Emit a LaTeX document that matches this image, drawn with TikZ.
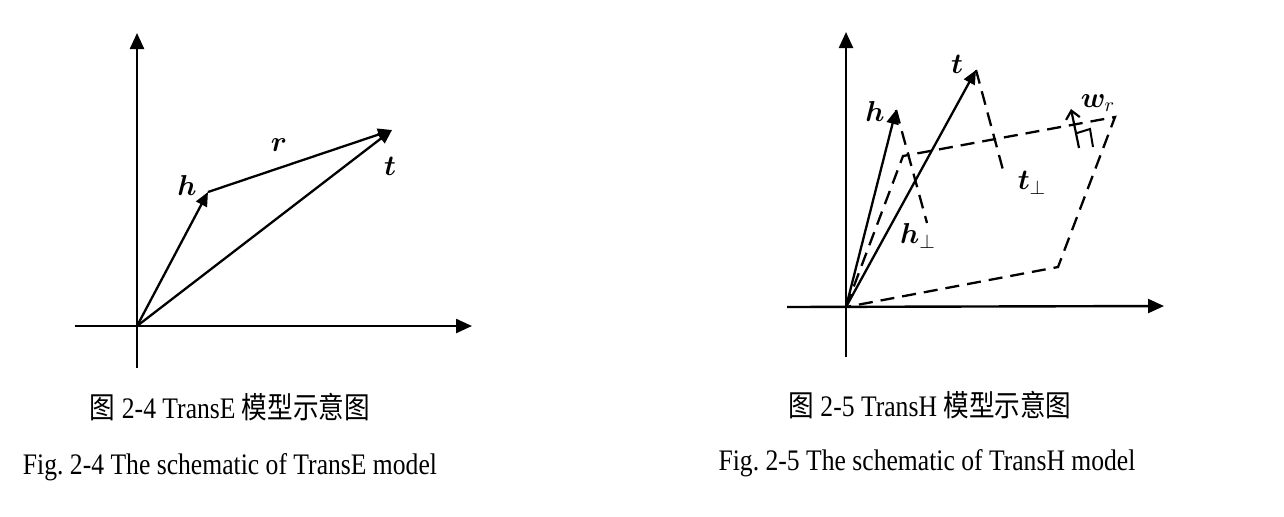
\documentclass[tikz,border=0pt]{standalone}
\usepackage{fontspec}
\usepackage{bm}
\setmainfont{Liberation Serif}
\newfontfamily\capfont[FakeStretch=0.86]{Liberation Serif}
\newfontfamily\cjk[FakeStretch=0.86]{Noto Sans CJK SC}
\usetikzlibrary{arrows.meta}
\frenchspacing
\tikzset{
  axis/.style={line width=1.2pt, -{Triangle[length=8pt,width=7pt]}},
  vec/.style={line width=1.15pt, -{Triangle[length=7pt,width=6pt]}},
  proj/.style={line width=1.15pt, dash pattern=on 7pt off 4pt},
  lab/.style={font=\fontsize{14}{16}\selectfont},
  captext/.style={font=\capfont\fontsize{14.9}{17}\selectfont},
}
\begin{document}
\begin{tikzpicture}[x=0.5pt,y=-0.5pt]
\useasboundingbox (0,0) rectangle (1284,516);
% TransE
\coordinate (o1) at (137,326);
\coordinate (yb1) at (137,368);
\coordinate (yt1) at (137,33);
\coordinate (xl1) at (75,326);
\coordinate (xr1) at (472,326);
\coordinate (h1) at (208,192);
\coordinate (t1) at (392,130);
\draw[axis] (yb1) -- (yt1);
\draw[axis] (xl1) -- (xr1);
\draw[vec] (o1) -- (h1);
\draw[vec] (o1) -- (t1);
\draw[vec] (h1) -- (t1);
\node[lab] (lh1) at (187,185) {$\bm{h}$};
\node[lab] (lr1) at (279,145) {$\bm{r}$};
\node[lab] (lt1) at (390,166) {$\bm{t}$};
\node[captext] (c1a) at (230,407) {{\cjk 图} 2-4 TransE {\cjk 模型示意图}};
\node[captext] (c1b) at (230,467) {Fig. 2-4 The schematic of TransE model};
% TransH
\coordinate (o2) at (846,307);
\coordinate (yb2) at (846,357);
\coordinate (yt2) at (846,32);
\coordinate (xl2) at (787,307);
\coordinate (xr2) at (1164,306);
\coordinate (h2) at (896,110);
\coordinate (t2) at (976,70);
\coordinate (pa) at (903,156);
\coordinate (pb) at (1115,117);
\coordinate (pc) at (1058,267);
\coordinate (hp) at (927,223);
\coordinate (tp) at (1003,170);
\coordinate (wb) at (1079,148);
\coordinate (wt) at (1071,109);
\coordinate (m1) at (1077,133);
\coordinate (m2) at (1090,129);
\coordinate (m3) at (1093,147);
\draw[axis] (yb2) -- (yt2);
\draw[axis] (xl2) -- (xr2);
\draw[proj] (o2) -- (pa) -- (pb) -- (pc) -- cycle;
\draw[proj] (h2) -- (hp);
\draw[proj] (t2) -- (tp);
\draw[vec] (o2) -- (h2);
\draw[vec] (o2) -- (t2);
\draw[line width=1.1pt, -{Straight Barb[length=4pt,width=7pt]}] (wb) -- (wt);
\draw[line width=1pt] (m1) -- (m2) -- (m3);
\node[lab] (lh2) at (875,111) {$\bm{h}$};
\node[lab] (lt2) at (957,64) {$\bm{t}$};
\node[lab] (ltp) at (1032,183) {$\bm{t}_{\bot}$};
\node[lab] (lhp) at (918,236) {$\bm{h}_{\bot}$};
\node[lab] (lw) at (1098,103) {$\bm{w}_r$};
\node[captext] (c2a) at (930,405) {{\cjk 图} 2-5 TransH {\cjk 模型示意图}};
\node[captext] (c2b) at (927,463) {Fig. 2-5 The schematic of TransH model};
\end{tikzpicture}
\end{document}
